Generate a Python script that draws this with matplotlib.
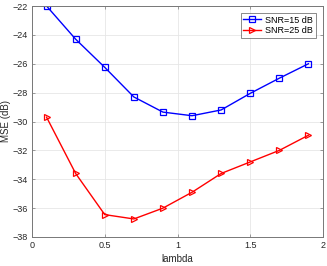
import matplotlib
matplotlib.use("Agg")
import matplotlib.pyplot as plt

plt.rcParams['font.family'] = ['Liberation Sans', 'DejaVu Sans']

lam = [0.1, 0.3, 0.5, 0.7, 0.9, 1.1, 1.3, 1.5, 1.7, 1.9]
snr15 = [-22.0, -24.3, -26.25, -28.3, -29.35, -29.6, -29.2, -28.05, -27.0, -26.0]
snr25 = [-29.7, -33.6, -36.45, -36.75, -36.0, -34.9, -33.6, -32.8, -32.0, -30.95]

fig = plt.figure(figsize=(3.27, 2.66), dpi=100)
ax = fig.add_axes([32/327, 1-237/266, (323-32)/327, (237-6)/266])
ax.plot(lam, snr15, color='#0000ff', marker='s', ms=4, mfc='none', mew=0.9, lw=1.0, label='SNR=15 dB')
ax.plot(lam, snr25, color='#ff0000', marker='>', ms=5, mfc='none', mew=0.9, lw=1.0, label='SNR=25 dB')
ax.set_xlim(0, 2)
ax.set_ylim(-38, -22)
ax.set_xticks([0, 0.5, 1, 1.5, 2])
ax.set_xticklabels(['0', '0.5', '1', '1.5', '2'])
ax.set_yticks(range(-38, -21, 2))
ax.grid(True, color='#e6e6e6', lw=0.6)
ax.set_axisbelow(True)
for s in ax.spines.values():
    s.set_color('#777777')
    s.set_linewidth(0.7)
ax.tick_params(direction='in', top=True, right=True, labelsize=6.5, length=2.5, width=0.5,
               colors='#777777', labelcolor='#262626', pad=3)
ax.set_xlabel('lambda', fontsize=7, color='#262626', labelpad=3)
ax.set_ylabel('MSE (dB)', fontsize=7, color='#262626', labelpad=1)
leg = ax.legend(loc='upper right', fontsize=6.5, frameon=True, fancybox=False, edgecolor='#555555',
                handlelength=2.0, borderpad=0.3, labelspacing=0.2, handletextpad=0.4,
                bbox_to_anchor=(0.99, 0.99))
leg.get_frame().set_linewidth(0.6)
fig.savefig('out.png', dpi=100)
